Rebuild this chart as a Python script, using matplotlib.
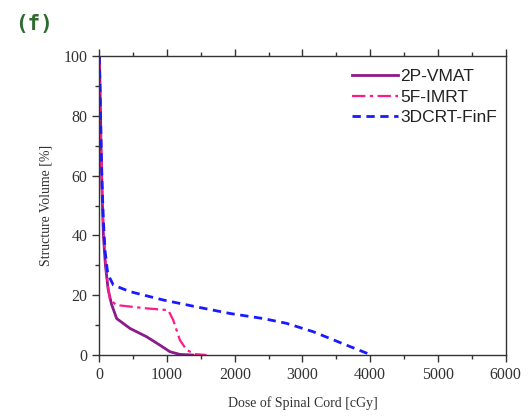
import matplotlib
matplotlib.use("Agg")
import matplotlib.pyplot as plt
from matplotlib.ticker import MultipleLocator

# Data (dose in cGy, volume in %)
vmat_dose = [0, 10, 25, 40, 60, 90, 130, 180, 256, 453, 699, 895, 1043, 1190, 1380]
vmat_vol = [100, 90, 70, 55, 40, 30, 22, 17, 12.2, 8.9, 6.1, 3.3, 1.1, 0.2, 0]

imrt_dose = [0, 10, 25, 40, 60, 90, 120, 158, 256, 699, 1018, 1091, 1190, 1289, 1412, 1584]
imrt_vol = [100, 90, 70, 55, 42, 32, 24, 18.4, 16.7, 15.6, 15.0, 11.7, 5.0, 1.7, 0.3, 0]

crt_dose = [0, 10, 25, 40, 60, 84, 120, 158, 207, 453, 944, 1436, 1928, 2420, 2764, 3158, 3650, 4018]
crt_vol = [100, 90, 72, 58, 45, 35, 28, 25.6, 23.4, 21.2, 18.4, 16.1, 13.9, 12.2, 10.6, 7.8, 3.3, 0]

labels = ["2P-VMAT", "5F-IMRT", "3DCRT-FinF"]
x_ticks = [0, 1000, 2000, 3000, 4000, 5000, 6000]
y_ticks = [0, 20, 40, 60, 80, 100]

fig = plt.figure(figsize=(5.3, 4.19), dpi=100)
ax = fig.add_axes([0.1874, 0.1527, 0.954 - 0.1874, 0.8663 - 0.1527])

ax.plot(vmat_dose, vmat_vol, color="#8B1A8B", lw=2.0, ls="-", label=labels[0])
ax.plot(imrt_dose, imrt_vol, color="#FF1A8C", lw=1.6, ls=(0, (6, 2, 1.5, 2)), label=labels[1])
ax.plot(crt_dose, crt_vol, color="#1A1AFF", lw=2.0, ls=(0, (3, 2)), label=labels[2])

ax.set_xlim(0, 6000)
ax.set_ylim(0, 100)
ax.set_xticks(x_ticks)
ax.set_yticks(y_ticks)
ax.xaxis.set_minor_locator(MultipleLocator(500))
ax.yaxis.set_minor_locator(MultipleLocator(10))

serif = "Liberation Serif"
for lab in ax.get_xticklabels() + ax.get_yticklabels():
    lab.set_fontfamily(serif)
    lab.set_fontsize(11.5)
    lab.set_color("#333333")

ax.tick_params(which="major", direction="out", length=5, width=1, colors="#333333",
               top=False, right=False)
ax.tick_params(which="minor", direction="out", length=3, width=1, colors="#333333",
               top=False, right=False)

# mirrored ticks on top pointing outward
axt = ax.secondary_xaxis("top")
axt.set_xticks(x_ticks)
axt.xaxis.set_minor_locator(MultipleLocator(500))
axt.tick_params(which="major", direction="out", length=5, width=1, labeltop=False, colors="#333333")
axt.tick_params(which="minor", direction="out", length=3, width=1, labeltop=False, colors="#333333")
for s in axt.spines.values():
    s.set_visible(False)

for s in ax.spines.values():
    s.set_color("#333333")
    s.set_linewidth(1.0)

ax.set_xlabel("Dose of Spinal Cord [cGy]", fontfamily=serif, fontsize=10, color="#333333", labelpad=10)
ax.set_ylabel("Structure Volume [%]", fontfamily=serif, fontsize=10, color="#333333", labelpad=8)

leg = ax.legend(loc="upper right", bbox_to_anchor=(1.0, 0.985), frameon=False,
                prop={"family": "Liberation Sans", "size": 12.5}, handlelength=2.6,
                handletextpad=0.15, labelspacing=0.3, borderaxespad=0.1)
for t in leg.get_texts():
    t.set_color("#222222")

fig.text(0.028, 0.943, "(f)", fontfamily="DejaVu Sans Mono", fontsize=15, fontweight="bold",
         color="#2E6B2E", va="center", ha="left")

fig.savefig("out.png", dpi=100)
